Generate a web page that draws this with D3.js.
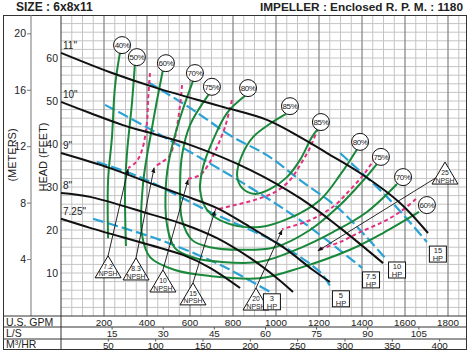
<!DOCTYPE html>
<html lang="en">
<head>
<meta charset="UTF-8">
<script src="https://cdn.jsdelivr.net/npm/d3@7"></script>
<title>Pump curve 6x8x11</title>
<style>
  body { margin: 0; background: #fff; }
  svg { display: block; font-family: "Liberation Sans", Arial, sans-serif; }
  text { fill: #222; }
</style>
</head>
<body>
<svg width="474" height="352"></svg>
<script>
// impeller head curves: [gpm, feet]
const heads = [
  {name: '11"', pts: [[0,61.2],[228,56.7],[447,53.0],[740,48.8],[958,45.6],[1112,41.6],[1237,37.9],[1405,32.8],[1577,26.3],[1707,19.3]]},
  {name: '10"', pts: [[0,49.8],[135,47.2],[288,44.4],[447,42.1],[600,39.8],[879,34.0],[1112,27.4],[1298,20.5],[1498,12.3]]},
  {name: '9"', pts: [[0,37.9],[228,34.4],[414,30.9],[567,28.1],[726,25.1],[879,20.7],[1033,16.0],[1172,10.7],[1251,7.9]]},
  {name: '8"', pts: [[0,28.6],[135,27.7],[414,23.7],[567,21.4],[726,18.1],[879,13.5],[1005,8.8],[1079,5.6]]},
  {name: '7.25"', pts: [[0,22.6],[135,20.5],[414,16.5],[567,14.2],[693,11.2],[833,6.5]]}
];

// efficiency contours
const effCurves = [
  {pct: "40%", pts: [[274,61.2],[251,53.3],[237,41.6],[219,31.6],[219,18.1]]},
  {pct: "50%", pts: [[344,58.8],[330,49.5],[307,37.9],[298,29.3],[302,16.3]]},
  {pct: "60%", pts: [[474,57.2],[428,45.1],[381,30.5],[377,18.8],[414,13.7],[530,10.7],[693,9.3],[926,8.8],[1112,11.2],[1344,15.4],[1498,19.3],[1665,24.2]]},
  {pct: "70%", pts: [[614,54.7],[554,46.1],[507,37.4],[488,30.5],[493,21.2],[530,15.8],[623,13.5],[740,12.6],[926,12.6],[1112,15.8],[1265,19.5],[1423,24.2],[1563,30.7]]},
  {pct: "75%", pts: [[688,51.6],[600,44.4],[563,37.4],[554,30.5],[563,22.3],[609,17.7],[693,16.0],[833,15.4],[995,16.0],[1158,20.0],[1298,25.8],[1400,31.2],[1470,35.4]]},
  {pct: "80%", pts: [[856,51.2],[772,47.2],[707,40.9],[661,34.7],[647,29.3],[679,24.7],[772,21.6],[926,20.7],[1065,22.8],[1205,27.0],[1298,32.8],[1377,38.8]]},
  {pct: "85%", pts: [[1047,47.0],[972,44.7],[893,41.6],[842,37.4],[819,32.8],[842,29.8],[902,28.4],[972,29.5],[1051,32.3],[1112,36.3],[1167,41.6],[1195,43.5]]}
];
const effLabels = [
  ["40%",284,63.0],["50%",353,60.2],["60%",488,58.8],["70%",623,56.5],["75%",702,53.3],["80%",870,53.0],["85%",1065,48.8],
  ["85%",1209,45.1],["80%",1391,40.5],["75%",1488,37.0],["70%",1591,32.3],["60%",1702,25.8]
];

// NPSH required curves (feet)
const npshCurves = [
  {npsh: "7.2", pts: [[414,56.5],[405,50.2],[400,45.1],[377,38.6],[349,35.8],[312,34.4]], tri: [219,14.0]},
  {npsh: "8.3", pts: [[563,53.7],[554,49.1],[530,41.4],[507,37.4],[470,35.8],[433,34.7]], tri: [349,13.5]},
  {npsh: "10", pts: [[795,50.2],[763,44.0],[726,39.3],[684,35.1],[647,32.8],[591,31.9]], tri: [474,10.7]},
  {npsh: "15", pts: [[1195,43.7],[1158,39.1],[1112,35.1],[1065,31.6],[995,28.8],[902,27.0],[809,25.8],[716,24.7]], tri: [614,7.7]},
  {npsh: "20", pts: [[1460,36.8],[1414,33.3],[1344,29.3],[1265,25.4],[1158,22.3],[1028,20.2]], tri: [907,6.5]},
  {npsh: "25", pts: [[1651,27.2],[1577,24.2],[1498,21.9],[1391,19.5],[1298,17.2],[1195,15.4]], tri: [1786,35.8], from: [1749,32.3]}
];

// horsepower lines
const hpLines = [
  {hp: "3", pts: [[149,22.6],[460,17.7],[740,11.9],[972,5.6]], box: [981,3.3]},
  {hp: "5", pts: [[167,35.8],[367,32.3],[693,24.2],[1005,17.0],[1205,10.2],[1251,7.0]], box: [1302,4.0]},
  {hp: "7.5", pts: [[205,49.1],[381,44.4],[567,39.1],[847,30.9],[1112,22.3],[1400,11.2]], box: [1442,8.4]},
  {hp: "10", pts: [[405,54.4],[600,48.4],[800,41.6],[958,37.4],[1112,31.6],[1298,24.7],[1507,13.5]], box: [1563,10.7]},
  {hp: "15", pts: [[1298,37.9],[1516,27.7],[1702,17.2]], box: [1753,14.4]}
];

const gpmTicks = [200,400,600,800,1000,1200,1400,1600,1800];
const lsTicks = [15,30,45,60,75,90,105];
const m3hTicks = [50,100,150,200,250,300,350,400];
const feetTicks = [10,20,30,40,50,60];
const meterTicks = [4,8,12,16,20];

const svg = d3.select("svg");
const x = d3.scaleLinear().domain([0,1880]).range([61,465.2]);
const y = d3.scaleLinear().domain([0,70]).range([316,15]);
const yM = d3.scaleLinear().domain([0,70/3.28084]).range([316,15]);
const line = d3.line().x(d => x(d[0])).y(d => y(d[1])).curve(d3.curveCatmullRom.alpha(0.5));

// header
svg.append("text").attr("x",16).attr("y",11).attr("font-size",12).attr("font-weight","bold").text("SIZE :  6x8x11");
svg.append("text").attr("x",463).attr("y",11).attr("text-anchor","end").attr("font-size",11.8).attr("font-weight","bold")
   .text("IMPELLER :  Enclosed  R. P. M. :  1180");

// grid
const grid = svg.append("g");
grid.selectAll(".hg").data(d3.range(2,70,2)).join("line")
  .attr("x1",61).attr("x2",466).attr("y1",d=>y(d)).attr("y2",d=>y(d))
  .attr("stroke","#c4c4c4").attr("stroke-width",1);
grid.selectAll(".vg").data(d3.range(50,1880,50)).join("line")
  .attr("y1",15).attr("y2",316).attr("x1",d=>x(d)).attr("x2",d=>x(d))
  .attr("stroke", d => d%200===0 ? "#8a8a8a" : "#c4c4c4")
  .attr("stroke-width", d => d%200===0 ? 1.3 : 1);

// frame and table
const fr = svg.append("g").attr("stroke","#333").attr("fill","none");
fr.append("rect").attr("x",3.5).attr("y",15.5).attr("width",463).attr("height",334);
fr.append("line").attr("x1",61).attr("x2",61).attr("y1",15).attr("y2",350);
fr.append("line").attr("x1",31).attr("x2",31).attr("y1",15).attr("y2",316).attr("stroke","#777");
[316,327,339].forEach(v => fr.append("line").attr("x1",3.5).attr("x2",466.5).attr("y1",v).attr("y2",v));

// row labels
const rows = [["U.S. GPM",325.5],["L/S",336.5],["M\u00B3/HR",348]];
rows.forEach(r => svg.append("text").attr("x",6).attr("y",r[1]).attr("font-size",10.5).text(r[0]));
svg.selectAll(".gt").data(gpmTicks).join("text")
  .attr("x",d=>x(d)).attr("y",325.5).attr("text-anchor","middle").attr("font-size",9.8).text(d=>d);
svg.selectAll(".lt").data(lsTicks).join("text")
  .attr("x",d=>x(d/0.0630902)).attr("y",337).attr("text-anchor","middle").attr("font-size",9.8).text(d=>d);
svg.selectAll(".ltk").data(lsTicks).join("line")
  .attr("x1",d=>x(d/0.0630902)).attr("x2",d=>x(d/0.0630902)).attr("y1",327).attr("y2",329.5).attr("stroke","#555");
svg.selectAll(".mt").data(m3hTicks).join("text")
  .attr("x",d=>x(d*4.40287)).attr("y",348.5).attr("text-anchor","middle").attr("font-size",9.8).text(d=>d);
svg.selectAll(".mtk").data(m3hTicks).join("line")
  .attr("x1",d=>x(d*4.40287)).attr("x2",d=>x(d*4.40287)).attr("y1",339).attr("y2",341.5).attr("stroke","#555");

// vertical axes
svg.selectAll(".ft").data(feetTicks).join("text")
  .attr("x",58).attr("y",d=>y(d)+3.5).attr("text-anchor","end").attr("font-size",10.5).text(d=>d);
svg.selectAll(".mtx").data(meterTicks).join("text")
  .attr("x",26).attr("y",d=>yM(d)+3.5).attr("text-anchor","end").attr("font-size",10.5).attr("fill","#333").text(d=>d);
svg.selectAll(".mtick").data(meterTicks).join("line")
  .attr("x1",27).attr("x2",31).attr("y1",d=>yM(d)).attr("y2",d=>yM(d)).attr("stroke","#777");
svg.append("text").attr("transform","translate(16,155) rotate(-90)").attr("text-anchor","middle").attr("font-size",11).text("(METERS)");
svg.append("text").attr("transform","translate(47,157) rotate(-90)").attr("text-anchor","middle").attr("font-size",11).text("HEAD (FEET)");

// HP lines
svg.append("g").selectAll("path").data(hpLines).join("path")
  .attr("d",d=>line(d.pts)).attr("fill","none").attr("stroke","#2aa2d6")
  .attr("stroke-width",2.2).attr("stroke-dasharray","11,4");

// NPSH curves
svg.append("g").selectAll("path").data(npshCurves).join("path")
  .attr("d",d=>line(d.pts)).attr("fill","none").attr("stroke","#e3307e")
  .attr("stroke-width",2).attr("stroke-dasharray","4,3");

// efficiency curves
svg.append("g").selectAll("path").data(effCurves).join("path")
  .attr("d",d=>line(d.pts)).attr("fill","none").attr("stroke","#19883a").attr("stroke-width",2);

// head curves
svg.append("g").selectAll("path").data(heads).join("path")
  .attr("d",d=>line(d.pts)).attr("fill","none").attr("stroke","#111").attr("stroke-width",2);
svg.selectAll(".hl").data(heads).join("text")
  .attr("x",63).attr("y",d=>y(d.pts[0][1])-4).attr("font-size",10).attr("fill","#333").text(d=>d.name);

// arrows from NPSH triangles
svg.append("defs").append("marker").attr("id","arr").attr("viewBox","0 0 10 10")
  .attr("refX",9).attr("refY",5).attr("markerWidth",6).attr("markerHeight",6).attr("orient","auto")
  .append("path").attr("d","M0,1 L10,5 L0,9 z").attr("fill","#111");
svg.append("g").selectAll("line").data(npshCurves).join("line")
  .attr("x1",d=>x((d.from||d.tri)[0])).attr("y1",d=>y((d.from||d.tri)[1]))
  .attr("x2",d=>x(d.pts[d.pts.length-1][0])).attr("y2",d=>y(d.pts[d.pts.length-1][1])+1)
  .attr("stroke","#111").attr("stroke-width",0.9).attr("marker-end","url(#arr)");

// NPSH triangles
const tri = svg.append("g").selectAll("g").data(npshCurves).join("g")
  .attr("transform",d=>`translate(${x(d.tri[0])},${y(d.tri[1])})`);
tri.append("path").attr("d","M0,0 L13,22 L-13,22 Z").attr("fill","#fff").attr("stroke","#111").attr("stroke-width",1);
tri.append("text").attr("y",13).attr("text-anchor","middle").attr("font-size",6.8).attr("fill","#555").text(d=>d.npsh);
tri.append("text").attr("y",20.6).attr("text-anchor","middle").attr("font-size",6.8).attr("fill","#444").text("NPSH");

// HP boxes
const box = svg.append("g").selectAll("g").data(hpLines).join("g")
  .attr("transform",d=>`translate(${x(d.box[0])},${y(d.box[1])})`);
box.append("rect").attr("x",-8.5).attr("y",-8).attr("width",17).attr("height",16).attr("fill","#fff").attr("stroke","#111");
box.append("text").attr("y",-0.8).attr("text-anchor","middle").attr("font-size",7.5).text(d=>d.hp);
box.append("text").attr("y",6.8).attr("text-anchor","middle").attr("font-size",7.5).text("HP");

// efficiency circles
const circ = svg.append("g").selectAll("g").data(effLabels).join("g")
  .attr("transform",d=>`translate(${x(d[1])},${y(d[2])})`);
circ.append("circle").attr("r",8.5).attr("fill","#fff").attr("stroke","#111").attr("stroke-width",1);
circ.append("text").attr("y",3).attr("text-anchor","middle").attr("font-size",8).attr("letter-spacing",-0.4).text(d=>d[0]);
</script>
</body>
</html>
